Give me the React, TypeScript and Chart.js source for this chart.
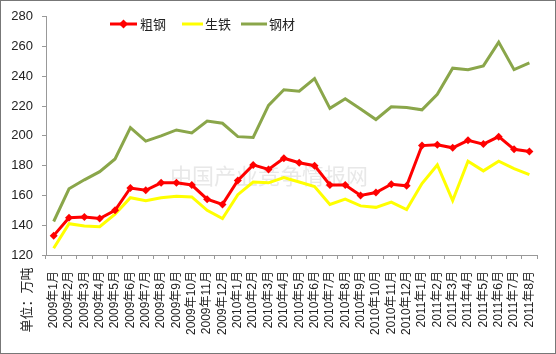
import React, { useEffect, useRef } from "react";
import { Chart, registerables } from "chart.js";

Chart.register(...registerables);

const categories = [
  "2009年1月", "2009年2月", "2009年3月", "2009年4月", "2009年5月", "2009年6月",
  "2009年7月", "2009年8月", "2009年9月", "2009年10月", "2009年11月", "2009年12月",
  "2010年1月", "2010年2月", "2010年3月", "2010年4月", "2010年5月", "2010年6月",
  "2010年7月", "2010年8月", "2010年9月", "2010年10月", "2010年11月", "2010年12月",
  "2011年1月", "2011年2月", "2011年3月", "2011年4月", "2011年5月", "2011年6月",
  "2011年7月", "2011年8月",
];

const crudeSteel = [
  133, 145, 145.5, 144.5, 150, 165, 163.5, 168.5, 168.5, 167, 157.5, 154,
  170, 180.5, 177.5, 185, 182, 180, 167, 167, 160, 162, 167.5, 166.5,
  193.5, 194, 192, 197, 194.5, 199.5, 191, 189.5,
];

const pigIron = [
  124.5, 141, 139.5, 139, 147.5, 158.5, 156.5, 158.5, 159.5, 159, 150, 144.5,
  160.5, 169, 168.5, 172, 169, 166, 154, 157.5, 153, 152, 155.5, 150.5,
  168, 180.5, 156.5, 183, 176.5, 183, 178, 174,
];

const steelProducts = [
  142.5, 164.5, 170.5, 176, 184.5, 205.5, 196.5, 200, 204, 202, 210, 208.5,
  199.5, 199, 220.5, 231, 230, 238.5, 218.5, 225, 218, 211, 219.5, 219,
  217.5, 228, 245.5, 244.5, 247, 263, 244.5, 249,
];

const seriesNames = ["粗钢", "生铁", "钢材"];
const seriesColors = ["#FF0000", "#FFFF00", "#8AA64A"];
const yTicks = { min: 120, max: 280, step: 20 };
const unitLabel = "单位：万吨";
const watermark = "中国产业竞争情报网";

const FONT = "'Liberation Sans', 'Noto Sans CJK SC', sans-serif";

const overlayPlugin = {
  id: "overlay",
  beforeDatasetsDraw(chart: any) {
    const ctx = chart.ctx;
    ctx.save();
    ctx.font = `22px 'Noto Sans CJK SC', sans-serif`;
    ctx.fillStyle = "rgba(205,205,205,0.45)";
    ctx.textAlign = "left";
    ctx.textBaseline = "middle";
    ctx.fillText(watermark, 170, 176);
    ctx.restore();
  },
  afterDraw(chart: any) {
    const ctx = chart.ctx;
    ctx.save();
    const ly = 24;
    const items = [
      { x0: 110, x1: 137, tx: 140, marker: true },
      { x0: 182, x1: 203, tx: 205, marker: false },
      { x0: 241, x1: 267, tx: 269, marker: false },
    ];
    items.forEach((it, i) => {
      ctx.strokeStyle = seriesColors[i];
      ctx.lineWidth = 3;
      ctx.beginPath();
      ctx.moveTo(it.x0, ly);
      ctx.lineTo(it.x1, ly);
      ctx.stroke();
      if (it.marker) {
        const cx = (it.x0 + it.x1) / 2;
        ctx.fillStyle = seriesColors[i];
        ctx.beginPath();
        ctx.moveTo(cx, ly - 4.5);
        ctx.lineTo(cx + 4.5, ly);
        ctx.lineTo(cx, ly + 4.5);
        ctx.lineTo(cx - 4.5, ly);
        ctx.closePath();
        ctx.fill();
      }
      ctx.fillStyle = "#222";
      ctx.font = `13px ${FONT}`;
      ctx.textAlign = "left";
      ctx.textBaseline = "middle";
      ctx.fillText(seriesNames[i], it.tx, ly + 1);
    });
    ctx.translate(27, 300);
    ctx.rotate(-Math.PI / 2);
    ctx.font = `13px ${FONT}`;
    ctx.fillStyle = "#222";
    ctx.textAlign = "center";
    ctx.textBaseline = "middle";
    ctx.fillText(unitLabel, 0, 0);
    ctx.restore();
    ctx.save();
    ctx.strokeStyle = "#777";
    ctx.lineWidth = 1;
    ctx.strokeRect(0.5, 0.5, chart.width - 1, chart.height - 1);
    ctx.restore();
  },
};

export default function App() {
  const ref = useRef<HTMLCanvasElement>(null);
  useEffect(() => {
    if (!ref.current) return;
    const data = [crudeSteel, pigIron, steelProducts];
    const chart = new Chart(ref.current, {
      type: "line",
      data: {
        labels: categories,
        datasets: data.map((d, i) => ({
          label: seriesNames[i],
          data: d,
          borderColor: seriesColors[i],
          backgroundColor: seriesColors[i],
          borderWidth: 3,
          pointRadius: i === 0 ? 4 : 0,
          pointStyle: "rectRot",
          pointBorderWidth: 0,
          tension: 0,
          fill: false,
        })),
      },
      options: {
        animation: false,
        responsive: false,
        layout: { padding: { top: 16, right: 13, left: 0, bottom: 0 } },
        plugins: { legend: { display: false }, tooltip: { enabled: false } },
        scales: {
          x: {
            offset: true,
            grid: { offset: true, drawOnChartArea: false, tickLength: 4, color: "#999" },
            border: { color: "#999" },
            ticks: {
              autoSkip: false,
              maxRotation: 90,
              minRotation: 90,
              padding: 12,
              color: "#222",
              font: { size: 12, family: FONT },
            },
            afterFit: (s: any) => { s.height = 99; },
          },
          y: {
            min: yTicks.min,
            max: yTicks.max,
            grid: { drawOnChartArea: false, tickLength: 4, color: "#999" },
            border: { color: "#999" },
            ticks: {
              stepSize: yTicks.step,
              padding: 9,
              color: "#222",
              font: { size: 13, family: FONT },
            },
            afterFit: (s: any) => { s.width = 46; },
          },
        },
      },
      plugins: [overlayPlugin],
    });
    return () => chart.destroy();
  }, []);
  return (
    <div style={{ position: "absolute", left: 0, top: 0, width: 556, height: 354, background: "#fff" }}>
      <canvas ref={ref} width={556} height={354} style={{ width: 556, height: 354 }} />
    </div>
  );
}
